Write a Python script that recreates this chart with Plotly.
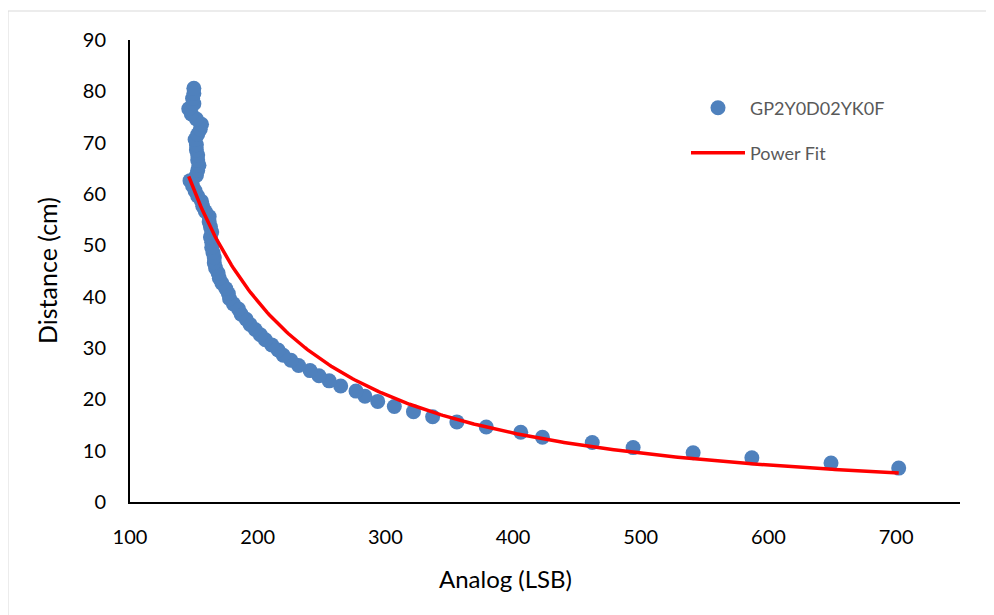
import numpy as np
import plotly.graph_objects as go

# Measured data: analog reading (LSB) vs distance (cm)
analog = [702, 649, 587, 541, 494, 462, 423, 406, 379, 356,
          337, 322, 307, 294, 284, 277, 265, 256, 248, 241,
          232, 226, 220, 216, 211, 206, 202, 198, 194, 191,
          187, 185, 181, 178, 177, 175, 172, 170, 169, 167,
          166, 166, 165, 164, 164, 163, 164, 163, 162, 162,
          159, 157, 156, 153, 151, 149, 147, 152, 153, 154,
          153, 153, 152, 152, 151, 153, 155, 156, 152, 148,
          146, 150, 149, 150, 150]
distance = [6.6, 7.6, 8.6, 9.6, 10.6, 11.6, 12.6, 13.6, 14.6, 15.6,
            16.6, 17.6, 18.6, 19.6, 20.6, 21.6, 22.6, 23.6, 24.6, 25.6,
            26.6, 27.6, 28.6, 29.6, 30.6, 31.6, 32.6, 33.6, 34.6, 35.6,
            36.6, 37.6, 38.6, 39.6, 40.6, 41.6, 42.6, 43.6, 44.6, 45.6,
            46.6, 47.6, 48.6, 49.6, 50.6, 51.6, 52.6, 53.6, 54.6, 55.6,
            56.6, 57.6, 58.6, 59.6, 60.6, 61.6, 62.6, 63.6, 64.6, 65.6,
            66.6, 67.6, 68.6, 69.6, 70.6, 71.6, 72.6, 73.6, 74.6, 75.6,
            76.6, 77.6, 78.6, 79.6, 80.6]

# Power fit coefficients: distance = a * analog^b
fit_a = 136550.0
fit_b = -1.540

x_ticks = [100, 200, 300, 400, 500, 600, 700]
y_ticks = [0, 10, 20, 30, 40, 50, 60, 70, 80, 90]

fit_x = np.linspace(min(analog), max(analog), 300)
fit_y = fit_a * fit_x ** fit_b

FONT = "Lato"

fig = go.Figure()
fig.add_trace(go.Scatter(
    x=analog, y=distance, mode="markers", name="GP2Y0D02YK0F",
    marker=dict(color="#4F81BD", size=15, line=dict(width=0)),
    legend="legend"))
fig.add_trace(go.Scatter(
    x=fit_x, y=fit_y, mode="lines", name="Power Fit",
    line=dict(color="#FF0000", width=3.5), legend="legend2"))

# page body has an 8px margin; target plot area in window px: x 130..960, y 40..502
OFF = 8
W, H = 994 - OFF, 615 - OFF
L, T = 130 - OFF, 40 - OFF
pw, ph = 830, 462
R, B = W - L - pw, H - T - ph

def px(xp):
    return (xp - 130) / pw

def py(yp):
    return (502 - yp) / ph

legend_common = dict(
    font=dict(family=FONT, size=18, color="#595959"),
    bgcolor="rgba(0,0,0,0)", itemwidth=54,
    xanchor="left", yanchor="middle", borderwidth=0)

fig.update_layout(
    width=W, height=H,
    margin=dict(l=L, r=R, t=T, b=B),
    paper_bgcolor="white", plot_bgcolor="white",
    font=dict(family=FONT, size=20, color="black"),
    showlegend=True,
    legend=dict(x=px(686), y=py(108), **legend_common),
    legend2=dict(x=px(686), y=py(153), **legend_common),
    xaxis=dict(range=[100, 750], tickvals=x_ticks, showgrid=False,
               zeroline=False, showline=True, linecolor="black", linewidth=2,
               ticks="", ticklabelstandoff=16,
               tickfont=dict(family=FONT, size=20, color="black")),
    yaxis=dict(range=[0, 90], tickvals=y_ticks, showgrid=False,
               zeroline=False, showline=True, linecolor="black", linewidth=2,
               ticks="", ticklabelstandoff=18,
               tickfont=dict(family=FONT, size=20, color="black")),
    annotations=[
        dict(text="Analog (LSB)", xref="paper", yref="paper",
             x=px(505), y=py(578), xanchor="center", yanchor="middle",
             showarrow=False, font=dict(family=FONT, size=24, color="black")),
        dict(text="Distance (cm)", xref="paper", yref="paper", textangle=-90,
             x=px(47), y=py(271), xanchor="center", yanchor="middle",
             showarrow=False, font=dict(family=FONT, size=25, color="black")),
    ],
    shapes=[dict(type="rect", xref="paper", yref="paper",
                 x0=px(8), y0=py(640), x1=px(1020), y1=py(11),
                 line=dict(color="#D9D9D9", width=1), layer="below")],
)

fig.write_html("out.html")
